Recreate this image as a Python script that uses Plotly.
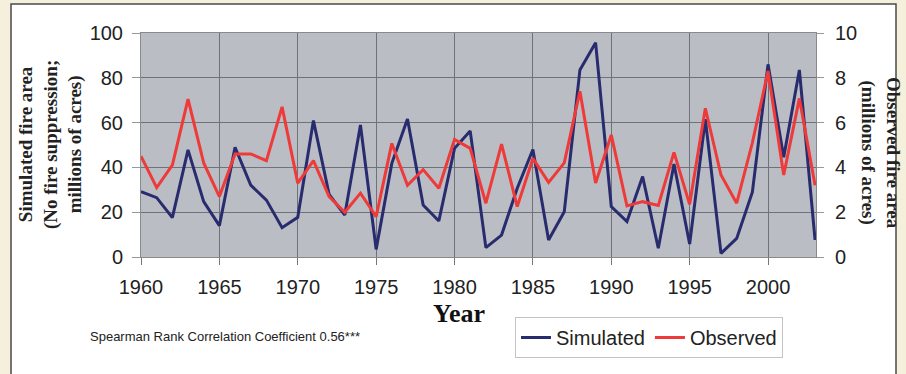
import plotly.graph_objects as go

# Annual fire area, 1960-2003
years = list(range(1960, 2004))
simulated = [29.2, 26.5, 17.6, 47.8, 24.7, 14.0, 49.0, 32.1, 25.4, 13.1,
             17.7, 60.9, 28.0, 18.7, 58.9, 3.4, 41.8, 61.6, 23.2, 16.1,
             48.5, 56.3, 4.2, 9.8, 30.7, 48.0, 7.6, 20.2, 83.5, 95.7,
             22.5, 15.8, 35.9, 3.9, 41.5, 5.8, 61.5, 1.6, 8.3, 28.9,
             86.0, 44.5, 83.5, 7.6]
observed = [4.5, 3.1, 4.1, 7.05, 4.2, 2.7, 4.6, 4.6, 4.3, 6.7,
            3.3, 4.3, 2.7, 2.0, 2.85, 1.8, 5.07, 3.2, 3.9, 3.07,
            5.25, 4.85, 2.4, 5.04, 2.25, 4.4, 3.33, 4.2, 7.4, 3.3,
            5.45, 2.28, 2.47, 2.3, 4.67, 2.35, 6.64, 3.66, 2.4, 5.1,
            8.3, 3.66, 7.08, 3.2]

left_ticks = [0, 20, 40, 60, 80, 100]
right_ticks = [0, 2, 4, 6, 8, 10]
x_ticks = [1960, 1965, 1970, 1975, 1980, 1985, 1990, 1995, 2000]

NAVY = "#282c6e"
RED = "#ef3a3a"
SANS = "Liberation Sans, Arial, sans-serif"
SERIF = "Liberation Serif, Times New Roman, serif"

fig = go.Figure()
fig.add_trace(go.Scatter(x=years, y=simulated, name="Simulated", mode="lines",
                         line=dict(color=NAVY, width=3)))
fig.add_trace(go.Scatter(x=years, y=observed, name="Observed", mode="lines",
                         line=dict(color=RED, width=3), yaxis="y2"))

L, R, T, B = 141, 90, 33, 117
W, H = 906, 374
pw, ph = W - L - R, H - T - B


def px_x(px):
    return (px - L) / pw


def px_y(py):
    return (H - B - py) / ph


fig.update_layout(
    width=W, height=H,
    margin=dict(l=L, r=R, t=T, b=B, pad=0),
    paper_bgcolor="#f4f0dc",
    plot_bgcolor="#babec4",
    showlegend=True,
    legend=dict(orientation="h", x=px_x(515), y=px_y(317), xanchor="left", yanchor="top",
                bgcolor="white", bordercolor="#c4c4c4", borderwidth=1,
                font=dict(family=SANS, size=20, color="#222")),
    xaxis=dict(range=[1960, 2003.06], tickvals=x_ticks, ticks="outside", ticklen=7,
               tickcolor="#777", showgrid=True, gridcolor="#6f7278", gridwidth=1,
               showline=True, linecolor="#8a8a8a", linewidth=1, mirror=True,
               zeroline=False, ticklabelstandoff=5,
               tickfont=dict(family=SANS, size=20, color="#222")),
    yaxis=dict(range=[0, 100], tickvals=left_ticks, ticks="outside", ticklen=8,
               tickcolor="#999", showgrid=True, gridcolor="#6f7278", gridwidth=1,
               showline=True, linecolor="#8a8a8a", linewidth=1, zeroline=False,
               ticklabelstandoff=5,
               tickfont=dict(family=SANS, size=20, color="#222")),
    yaxis2=dict(range=[0, 10], tickvals=right_ticks, overlaying="y", side="right",
                ticks="outside", ticklen=7, tickcolor="#999", showgrid=False,
                showline=True, linecolor="#8a8a8a", linewidth=1, zeroline=False,
                ticklabelstandoff=7,
                tickfont=dict(family=SANS, size=20, color="#222")),
    shapes=[
        dict(type="rect", xref="paper", yref="paper", layer="below",
             x0=px_x(11), x1=px_x(896), y0=px_y(390), y1=px_y(4),
             fillcolor="white", line=dict(color="#4a4a4a", width=1.5)),
        dict(type="rect", xref="paper", yref="paper", layer="below",
             x0=0, x1=1, y0=0, y1=1, fillcolor="#babec4", line=dict(width=0)),
    ],
    annotations=[
        dict(text="<b>Simulated fire area<br>(No fire suppression;<br>millions of acres)</b>",
             xref="paper", yref="paper", x=px_x(50), y=px_y(145), xanchor="center",
             yanchor="middle", textangle=-90, showarrow=False,
             font=dict(family=SERIF, size=19, color="#222")),
        dict(text="<b>Observed fire area<br>(millions of acres)</b>",
             xref="paper", yref="paper", x=px_x(881), y=px_y(153), xanchor="center",
             yanchor="middle", textangle=90, showarrow=False,
             font=dict(family=SERIF, size=19, color="#222")),
        dict(text="<b>Year</b>", xref="paper", yref="paper", x=px_x(459), y=px_y(313),
             xanchor="center", yanchor="middle", showarrow=False,
             font=dict(family=SERIF, size=26, color="#111")),
        dict(text="Spearman Rank Correlation Coefficient 0.56***", xref="paper",
             yref="paper", x=px_x(88), y=px_y(336), xanchor="left", yanchor="middle",
             showarrow=False, font=dict(family=SANS, size=13, color="#222")),
    ],
)

fig.write_html("out.html")
